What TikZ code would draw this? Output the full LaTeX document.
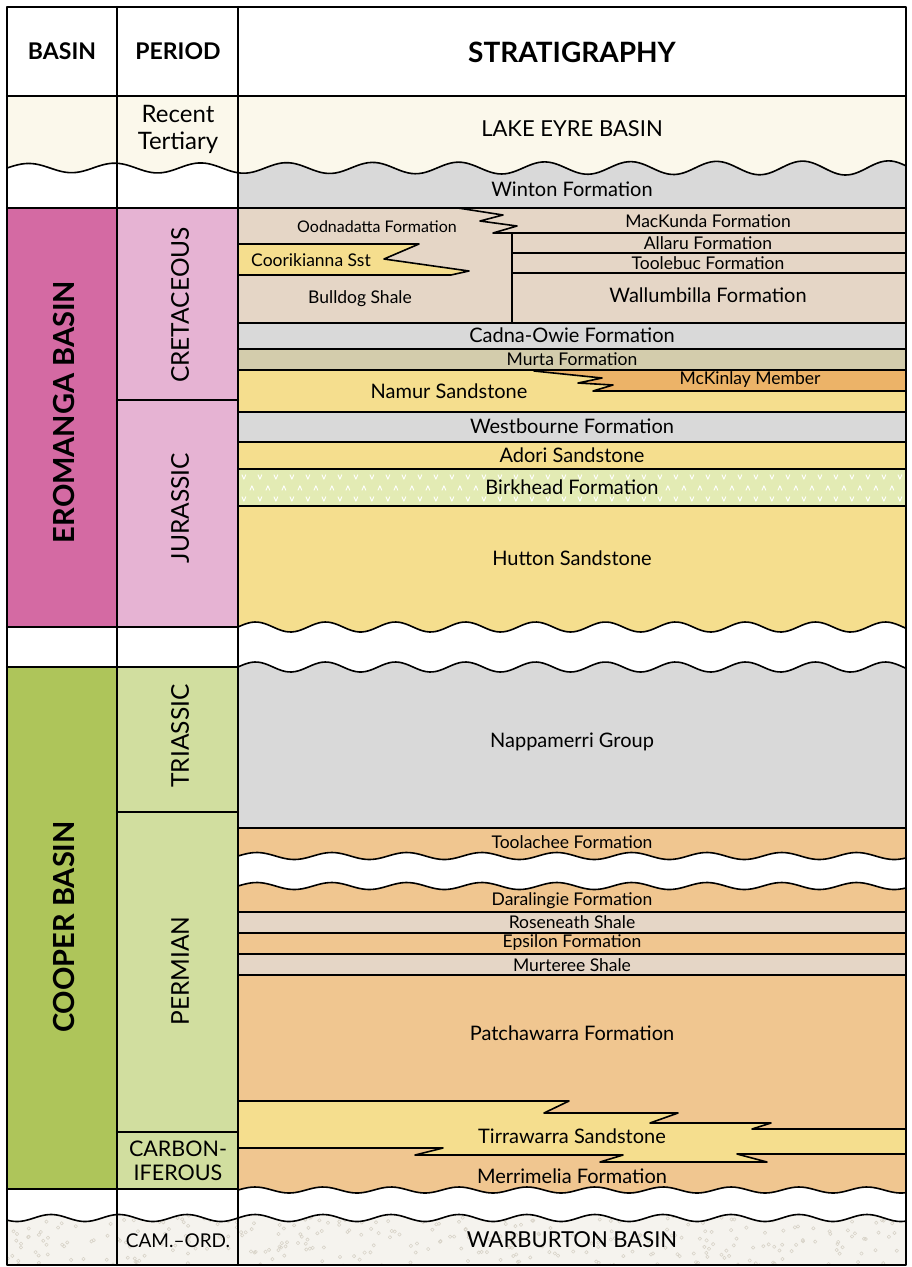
\documentclass[tikz,border=0pt]{standalone}
\usepackage{fontspec}
\setmainfont{Lato}
\definecolor{lakecream}{HTML}{FBF8EB}
\definecolor{formgray}{HTML}{D9D9D9}
\definecolor{shaletan}{HTML}{E5D6C6}
\definecolor{murtaolive}{HTML}{D3CCAC}
\definecolor{sandyellow}{HTML}{F5DE8E}
\definecolor{mckinlayorange}{HTML}{ECB368}
\definecolor{birkheadgreen}{HTML}{E3EBB4}
\definecolor{permorange}{HTML}{F0C690}
\definecolor{eromangapink}{HTML}{D46AA3}
\definecolor{periodpink}{HTML}{E6B3D3}
\definecolor{cooperolive}{HTML}{AEC55A}
\definecolor{periodgreen}{HTML}{D1DE9F}
\definecolor{warburtonbase}{HTML}{F5F3EE}
\definecolor{warburtondot}{HTML}{D8D3C8}

\begin{document}
\begin{tikzpicture}[
  x=1pt,
  y=-1pt,
  line join=round,
  line cap=round,
  frame/.style={draw=black,line width=2.2pt},
  bed/.style={draw=black,line width=1.6pt},
  wavy/.style n args={5}{insert path={plot[variable=\xx,domain=#1:#2,samples=200,smooth] (\xx,{#3-#4*sin((\xx-238)/#5*360)})}},
  lakewave/.style={insert path={-- plot[variable=\xx,domain=7:906,samples=250,smooth] (\xx,{168-(4.5+0.003*(\xx-7))*sin((\xx-7)/86*360)})}},
  headtext/.style={font=\bfseries\fontsize{23}{26}\selectfont,inner sep=0pt},
  unit/.style={font=\fontsize{20}{24}\selectfont,inner sep=0pt},
  thinunit/.style={font=\fontsize{17.5}{20}\selectfont,inner sep=0pt},
  periodtext/.style={font=\fontsize{24.5}{28}\selectfont,rotate=90,inner sep=0pt},
  basintext/.style={font=\bfseries\fontsize{29}{32}\selectfont,rotate=90,inner sep=0pt}
]
  \useasboundingbox (0,0) rectangle (911,1267);

  % Basin and period columns.
  \fill[eromangapink] (7,208) rectangle (117,627);
  \fill[periodpink] (117,208) rectangle (238,627);
  \fill[cooperolive] (7,667) rectangle (117,1189);
  \fill[periodgreen] (117,667) rectangle (238,1189);

  % Lake Eyre and Winton.
  \fill[formgray] (238,150) rectangle (906,208);
  \fill[lakecream] (7,96) [lakewave] -- (906,96) -- cycle;

  % Cretaceous beds, with the two tongues.
  \fill[shaletan] (238,208) rectangle (906,323);
  \fill[sandyellow] (238,244) -- (419,244) -- (384,259) -- (469,271) -- (451,275) -- (238,275) -- cycle;
  \fill[formgray] (238,323) rectangle (906,349);
  \fill[murtaolive] (238,349) rectangle (906,370);
  \fill[sandyellow] (238,370) rectangle (906,412);
  \fill[mckinlayorange] (534,371) -- (906,371) -- (906,391) -- (593,391) -- (613,385) -- (578,383) -- (602,378) -- cycle;

  % Jurassic beds.
  \fill[formgray] (238,412) rectangle (906,442);
  \fill[sandyellow] (238,442) rectangle (906,469);
  \fill[birkheadgreen] (238,469) rectangle (906,506);
  \foreach \row/\off/\s in {477/0/1,488/8/-1,499/0/1} {
    \foreach \i in {0,...,41} {
      \draw[white,line width=0.9pt] ({242+\off+16*\i},{\row-2.2*\s}) -- ++(1.9,4.4*\s) -- ++(1.9,-4.4*\s);
    }
  }
  \fill[sandyellow] (238,506) rectangle (906,640);
  \fill[white,wavy={238}{906}{627}{5}{70}] -- (906,680) -- (238,680) -- cycle;
  \fill[formgray,wavy={238}{906}{667}{5}{70}] -- (906,828) -- (238,828) -- cycle;

  % Permian beds.
  \fill[permorange] (238,828) rectangle (906,870);
  \fill[white,wavy={238}{906}{856}{3.5}{75}] -- (906,895) -- (238,895) -- cycle;
  \fill[permorange,wavy={238}{906}{886}{3.5}{75}] -- (906,912) -- (238,912) -- cycle;
  \fill[shaletan] (238,912) rectangle (906,933);
  \fill[permorange] (238,933) rectangle (906,954);
  \fill[shaletan] (238,954) rectangle (906,975);
  \fill[permorange] (238,975) rectangle (906,1200);
  \fill[sandyellow] (238,1101) -- (569,1101) -- (544,1113) -- (678,1113) -- (650,1123) -- (771,1123) -- (752,1129) -- (906,1129)
    -- (906,1154) -- (737,1154) -- (767,1162) -- (600,1162) -- (623,1155) -- (415,1155) -- (443,1148) -- (238,1148) -- cycle;
  \fill[white,wavy={238}{906}{1190}{3}{68}] -- (906,1230) -- (238,1230) -- cycle;

  % Warburton basement, speckled.
  \fill[warburtonbase,wavy={7}{906}{1218}{3.5}{68}] -- (906,1265) -- (7,1265) -- cycle;
  \begin{scope}
    \clip[wavy={7}{906}{1218}{3.5}{68}] -- (906,1265) -- (7,1265) -- cycle;
    \pgfmathsetseed{11}
    \foreach \k in {1,...,420} {
      \pgfmathsetmacro{\dx}{7+899*rnd}
      \pgfmathsetmacro{\dy}{1206+60*rnd}
      \draw[warburtondot,line width=0.6pt] (\dx,\dy) circle[radius=1.7pt];
    }
  \end{scope}

  % Bed boundaries.
  \draw[bed] (458,208) -- (503,215) -- (480,221) -- (517,226) -- (493,233) -- (906,233);
  \draw[bed] (512,253) -- (906,253);
  \draw[bed] (512,273) -- (906,273);
  \draw[bed] (512,233) -- (512,323);
  \draw[bed] (238,244) -- (419,244) -- (384,259) -- (469,271) -- (451,275) -- (238,275);
  \draw[bed] (238,323) -- (906,323);
  \draw[bed] (238,349) -- (906,349);
  \draw[bed] (238,370) -- (906,370);
  \draw[bed] (534,371) -- (602,378) -- (578,383) -- (613,385) -- (593,391) -- (906,391);
  \foreach \yy in {412,442,469,506,828,912,933,954,975} {
    \draw[bed] (238,\yy) -- (906,\yy);
  }
  \draw[bed,wavy={238}{906}{627}{5}{70}];
  \draw[bed,wavy={238}{906}{667}{5}{70}];
  \draw[bed,wavy={238}{906}{856}{3.5}{75}];
  \draw[bed,wavy={238}{906}{886}{3.5}{75}];
  \draw[bed] (238,1101) -- (569,1101) -- (544,1113) -- (678,1113) -- (650,1123) -- (771,1123) -- (752,1129) -- (906,1129);
  \draw[bed] (906,1154) -- (737,1154) -- (767,1162) -- (600,1162) -- (623,1155) -- (415,1155) -- (443,1148) -- (238,1148);
  \draw[bed,wavy={238}{906}{1190}{3}{68}];
  \draw[bed,wavy={7}{906}{1218}{3.5}{68}];
  \draw[bed] (7,168) [lakewave];

  % Column frame.
  \draw[frame] (7,96) -- (906,96);
  \draw[frame] (7,208) -- (906,208);
  \draw[frame] (117,400) -- (238,400);
  \draw[frame] (7,627) -- (238,627);
  \draw[frame] (7,667) -- (238,667);
  \draw[frame] (117,812) -- (238,812);
  \draw[frame] (117,1132) -- (238,1132);
  \draw[frame] (7,1189) -- (238,1189);
  \draw[frame] (117,7) -- (117,1265);
  \draw[frame] (238,7) -- (238,1265);
  \draw[frame] (7,7) rectangle (906,1265);

  % Headings.
  \node[headtext] (basinhead) at (62,51) {BASIN};
  \node[headtext] (periodhead) at (178,51) {PERIOD};
  \node[headtext,font=\bfseries\fontsize{28}{32}\selectfont] (strathead) at (572,52) {STRATIGRAPHY};

  % Basin and period labels.
  \node[basintext] (eromanga) at (64,412) {EROMANGA BASIN};
  \node[basintext] (cooper) at (64,927) {COOPER BASIN};
  \node[unit,align=center,font=\fontsize{24}{27}\selectfont] (tertiary) at (178,129) {Recent\\Tertiary};
  \node[periodtext] (cretaceous) at (180,305) {CRETACEOUS};
  \node[periodtext] (jurassic) at (180,508) {JURASSIC};
  \node[periodtext] (triassic) at (180,736) {TRIASSIC};
  \node[periodtext] (permian) at (180,971) {PERMIAN};
  \node[unit,align=center,font=\fontsize{21.5}{24}\selectfont] (carbon) at (178,1161) {CARBON-\\IFEROUS};
  \node[unit,font=\fontsize{19}{22}\selectfont] (camord) at (178,1241) {CAM.--ORD.};

  % Stratigraphic units.
  \node[unit,font=\fontsize{22}{24}\selectfont] (lakeeyre) at (572,129) {LAKE EYRE BASIN};
  \node[unit] (winton) at (572,189) {Winton Formation};
  \node[thinunit,font=\fontsize{16}{19}\selectfont] (oodnadatta) at (377,227) {Oodnadatta Formation};
  \node[thinunit] (mackunda) at (708,221) {MacKunda Formation};
  \node[thinunit] (allaru) at (708,243) {Allaru Formation};
  \node[thinunit] (toolebuc) at (708,263) {Toolebuc Formation};
  \node[thinunit] (coorikianna) at (311,260) {Coorikianna Sst};
  \node[thinunit] (bulldog) at (360,299) {Bulldog Shale};
  \node[unit] (wallumbilla) at (708,295) {Wallumbilla Formation};
  \node[unit] (cadnaowie) at (572,335) {Cadna-Owie Formation};
  \node[thinunit] (murta) at (572,359) {Murta Formation};
  \node[unit] (namur) at (449,391) {Namur Sandstone};
  \node[thinunit] (mckinlay) at (750,380) {McKinlay Member};
  \node[unit] (westbourne) at (572,426) {Westbourne Formation};
  \node[unit] (adori) at (572,455) {Adori Sandstone};
  \node[unit] (birkhead) at (572,487) {Birkhead Formation};
  \node[unit] (hutton) at (572,558) {Hutton Sandstone};
  \node[unit] (nappamerri) at (572,742) {Nappamerri Group};
  \node[thinunit] (toolachee) at (572,842) {Toolachee Formation};
  \node[thinunit] (daralingie) at (572,901) {Daralingie Formation};
  \node[thinunit] (roseneath) at (572,922) {Roseneath Shale};
  \node[thinunit] (epsilon) at (572,943) {Epsilon Formation};
  \node[thinunit] (murteree) at (572,965) {Murteree Shale};
  \node[unit] (patchawarra) at (572,1033) {Patchawarra Formation};
  \node[unit] (tirrawarra) at (572,1136) {Tirrawarra Sandstone};
  \node[unit] (merrimelia) at (572,1176) {Merrimelia Formation};
  \node[unit,font=\fontsize{22}{24}\selectfont] (warburton) at (572,1240) {WARBURTON BASIN};
\end{tikzpicture}
\end{document}
